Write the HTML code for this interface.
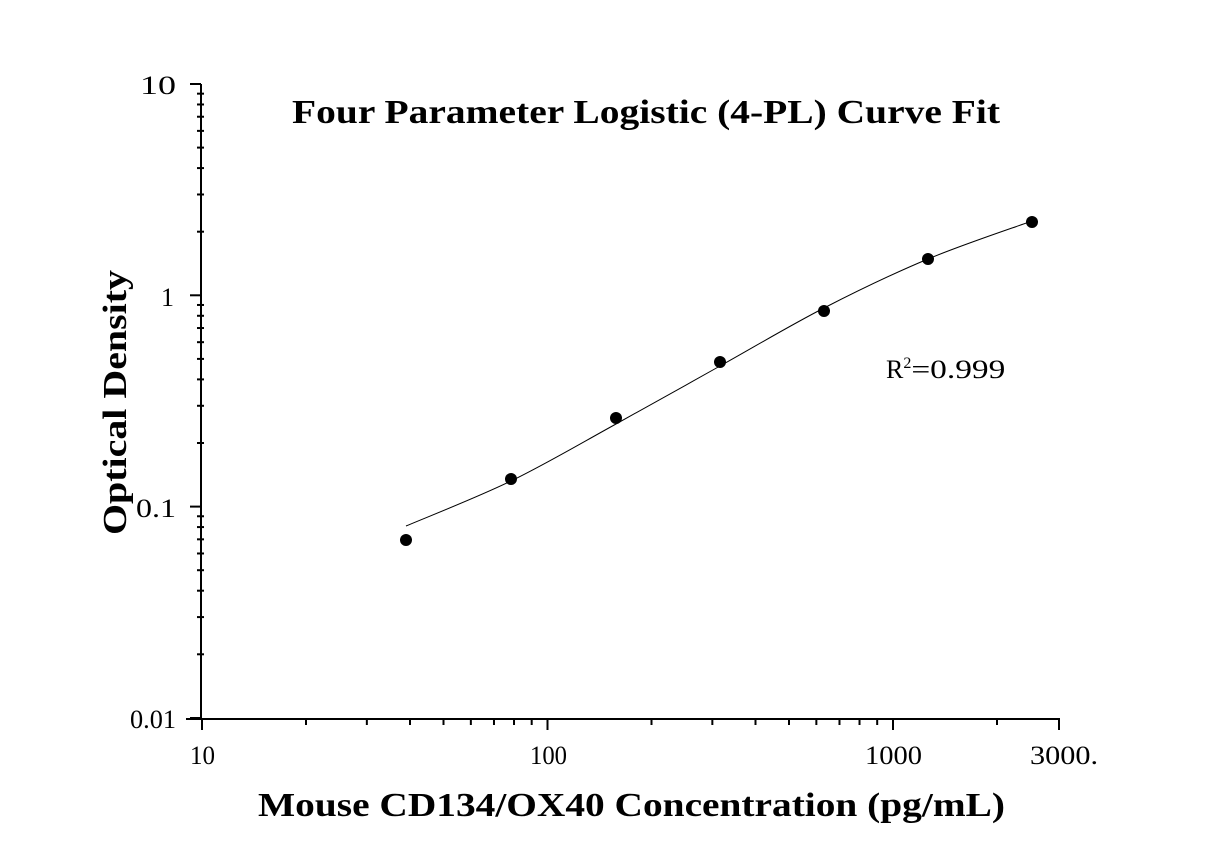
<!DOCTYPE html>
<html><head><style>
body{margin:0;background:#fff;}
svg{display:block;font-family:"Liberation Serif",serif;}
</style></head><body>
<svg id="s" width="1224" height="856" viewBox="0 0 1224 856" xmlns="http://www.w3.org/2000/svg">
<rect width="1224" height="856" fill="#fff"/>
<text x="292" y="123" font-size="34" font-weight="bold" textLength="708" lengthAdjust="spacingAndGlyphs">Four Parameter Logistic (4-PL) Curve Fit</text>
<text x="258" y="816" font-size="34" font-weight="bold" textLength="747" lengthAdjust="spacingAndGlyphs">Mouse CD134/OX40 Concentration (pg/mL)</text>
<text transform="translate(126,535) rotate(-90)" font-size="34" font-weight="bold" textLength="265" lengthAdjust="spacingAndGlyphs">Optical Density</text>
<text x="886" y="378" font-size="26">R<tspan font-size="16" dy="-10">2</tspan><tspan dy="10" textLength="94" lengthAdjust="spacingAndGlyphs">=0.999</tspan></text>
<g font-size="26">
<text x="140" y="94" textLength="36" lengthAdjust="spacingAndGlyphs">10</text>
<text x="161" y="306">1</text>
<text x="136" y="517" textLength="40" lengthAdjust="spacingAndGlyphs">0.1</text>
<text x="130" y="728" textLength="46" lengthAdjust="spacingAndGlyphs">0.01</text>
<text x="190" y="764" textLength="25" lengthAdjust="spacingAndGlyphs">10</text>
<text x="530" y="764" textLength="37" lengthAdjust="spacingAndGlyphs">100</text>
<text x="865" y="764" textLength="57" lengthAdjust="spacingAndGlyphs">1000</text>
<text x="1030" y="764" textLength="68" lengthAdjust="spacingAndGlyphs">3000.</text>
</g>
<g id="ax" stroke="#000" fill="none"></g>
<path id="cv" fill="none" stroke="#000" stroke-width="1"/>
<g fill="#000">
<circle cx="406" cy="540" r="6"/><circle cx="511" cy="479" r="6"/><circle cx="616" cy="418" r="6"/>
<circle cx="720" cy="362" r="6"/><circle cx="824" cy="311" r="6"/><circle cx="928" cy="259" r="6"/><circle cx="1032" cy="222" r="6"/>
</g>
</svg>
<script>
var ax=document.getElementById('ax'),s='';
function L(x1,y1,x2,y2,w){s+='<line x1="'+x1+'" y1="'+y1+'" x2="'+x2+'" y2="'+y2+'" stroke-width="'+w+'"/>';}
L(201,84,201,720,2);L(186,719,1060,719,2);
for(var d=0;d<3;d++){var y0=84+d*211.3;L(190,y0,201,y0,2);
 for(var k=2;k<10;k++){var y=y0+211.3*(1-Math.log10(k));L(197,y,204,y,2);}}
L(190,718,201,718,2);
var X=function(v){return 202+(Math.log10(v)-1)*345.5;};
[10,100,1000].forEach(function(v){L(X(v),719,X(v),730,2);});
L(1059,719,1059,730,2);
[20,30,40,50,60,70,80,90,200,300,400,500,600,700,800,900,2000].forEach(function(v){L(X(v),719,X(v),725,2);});
ax.innerHTML=s;
var p=[[406,526],[511,481],[616,424],[720,366],[824,308],[928,259],[1032,221]];
var d='M'+p[0];
for(var i=0;i<p.length-1;i++){var a=p[i-1]||p[i],b=p[i],c=p[i+1],e=p[i+2]||c;
d+=' C'+(b[0]+(c[0]-a[0])/6)+','+(b[1]+(c[1]-a[1])/6)+' '+(c[0]-(e[0]-b[0])/6)+','+(c[1]-(e[1]-b[1])/6)+' '+c[0]+','+c[1];}
document.getElementById('cv').setAttribute('d',d);
</script>
</body></html>
